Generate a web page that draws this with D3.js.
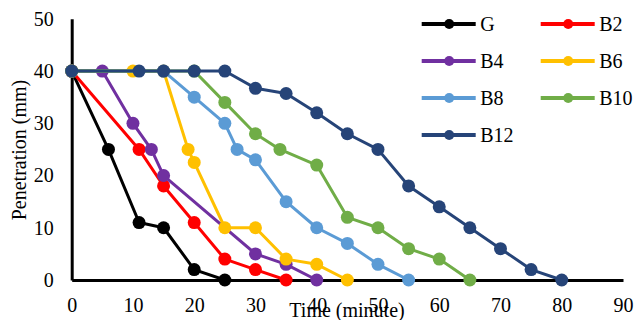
<!DOCTYPE html>
<html>
<head>
<meta charset="utf-8">
<script src="https://cdn.jsdelivr.net/npm/d3@7"></script>
<style>
  html, body { margin: 0; padding: 0; background: #fff; }
  svg { display: block; }
  text { font-family: "Liberation Serif", "Times New Roman", serif; fill: #000; }
</style>
</head>
<body>
<svg id="chart" width="634" height="320"></svg>
<script>
// ---- data ----
const seriesNames = ["G", "B2", "B4", "B6", "B8", "B10", "B12"];
const seriesColors = ["#000000", "#FF0000", "#7030A0", "#FFC000", "#5B9BD5", "#70AD47", "#264478"];

const timeG   = [0, 6, 11, 15, 20, 25];
const penG    = [40, 25, 11, 10, 2, 0];
const timeB2  = [0, 11, 15, 20, 25, 30, 35];
const penB2   = [40, 25, 18, 11, 4, 2, 0];
const timeB4  = [0, 5, 10, 13, 15, 30, 35, 40];
const penB4   = [40, 40, 30, 25, 20, 5, 3, 0];
const timeB6  = [0, 10, 15, 19, 20, 25, 30, 35, 40, 45];
const penB6   = [40, 40, 40, 25, 22.5, 10, 10, 4, 3, 0];
const timeB8  = [0, 15, 20, 25, 27, 30, 35, 40, 45, 50, 55];
const penB8   = [40, 40, 35, 30, 25, 23, 15, 10, 7, 3, 0];
const timeB10 = [0, 20, 25, 30, 34, 40, 45, 50, 55, 60, 65];
const penB10  = [40, 40, 34, 28, 25, 22, 12, 10, 6, 4, 0];
const timeB12 = [0, 11, 15, 20, 25, 30, 35, 40, 45, 50, 55, 60, 65, 70, 75, 80];
const penB12  = [40, 40, 40, 40, 40, 36.7, 35.7, 32, 28, 25, 18, 14, 10, 6, 2, 0];

const xTicks = [0, 10, 20, 30, 40, 50, 60, 70, 80, 90];
const yTicks = [0, 10, 20, 30, 40, 50];
const xTitle = "Time (minute)";
const yTitle = "Penetration (mm)";

const times = [timeG, timeB2, timeB4, timeB6, timeB8, timeB10, timeB12];
const pens  = [penG, penB2, penB4, penB6, penB8, penB10, penB12];
const series = seriesNames.map((name, i) => ({
  name, color: seriesColors[i],
  points: times[i].map((t, j) => ({ x: t, y: pens[i][j] }))
}));

// ---- layout ----
const svg = d3.select("#chart");
const x = d3.scaleLinear().domain([0, 90]).range([71.7, 623]);
const y = d3.scaleLinear().domain([0, 50]).range([280, 18.8]);

// axes
const xAxis = d3.axisBottom(x).tickValues(xTicks).tickSize(0).tickSizeOuter(0).tickPadding(18);
const yAxis = d3.axisLeft(y).tickValues(yTicks).tickSize(0).tickSizeOuter(0).tickPadding(18);

const gx = svg.append("g").attr("transform", `translate(0,${y(0)})`).call(xAxis);
const gy = svg.append("g").attr("transform", `translate(${x(0)},0)`).call(yAxis);
[gx, gy].forEach(g => {
  g.select(".domain").attr("stroke", "#000").attr("stroke-width", 3);
  g.selectAll("text").style("font-family", '"Liberation Serif", "Times New Roman", serif')
    .style("font-size", "20px").attr("fill", "#000");
});

// series
const line = d3.line().x(d => x(d.x)).y(d => y(d.y));
const sg = svg.append("g");
series.forEach(s => {
  const g = sg.append("g");
  g.append("path").datum(s.points)
    .attr("d", line).attr("fill", "none")
    .attr("stroke", s.color).attr("stroke-width", 3).attr("stroke-linejoin", "round");
  g.selectAll("circle").data(s.points).join("circle")
    .attr("cx", d => x(d.x)).attr("cy", d => y(d.y)).attr("r", 6.5)
    .attr("fill", s.color);
});

// axis titles
svg.append("text").attr("x", 347).attr("y", 317).attr("text-anchor", "middle")
  .style("font-size", "20px").text(xTitle);
svg.append("text").attr("transform", "translate(26,150) rotate(-90)").attr("text-anchor", "middle")
  .style("font-size", "20px").text(yTitle);

// legend
const legCols = [421.7, 540.7];
const legRows = [24, 61, 98, 135];
const leg = svg.append("g");
series.forEach((s, i) => {
  const cx = legCols[i % 2], cy = legRows[Math.floor(i / 2)];
  const g = leg.append("g").attr("transform", `translate(${cx},${cy})`);
  g.append("line").attr("x1", 0).attr("x2", 54).attr("y1", 0).attr("y2", 0)
    .attr("stroke", s.color).attr("stroke-width", 4);
  g.append("circle").attr("cx", 27.5).attr("cy", 0).attr("r", 5).attr("fill", s.color);
  g.append("text").attr("x", 58.5).attr("y", 7).style("font-size", "20px").text(s.name);
});
</script>
</body>
</html>
